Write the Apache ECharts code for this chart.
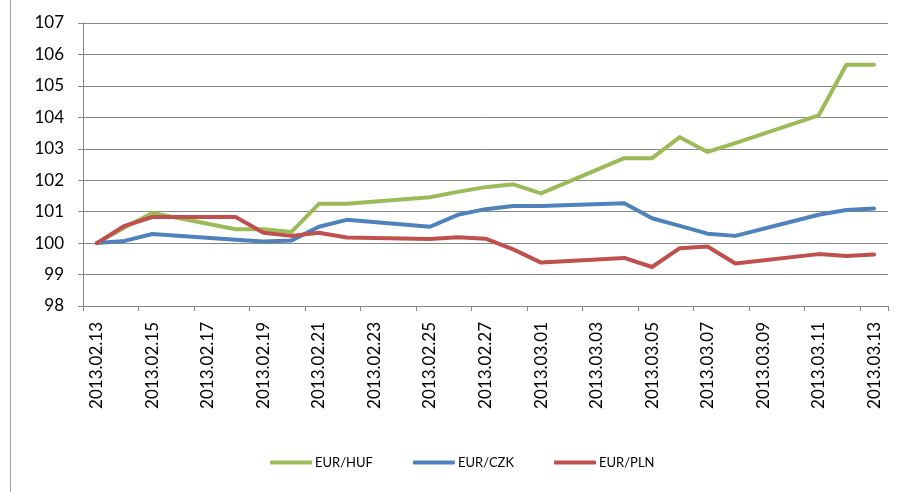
<!DOCTYPE html>
<html>
<head>
<meta charset="utf-8">
<script src="https://cdn.jsdelivr.net/npm/echarts@6/dist/echarts.min.js"></script>
<style>html,body{margin:0;padding:0;background:#fff}#c{width:899px;height:492px}</style>
</head>
<body>
<div id="c"></div>
<script>
const dates = ["2013.02.13","2013.02.14","2013.02.15","2013.02.16","2013.02.17","2013.02.18","2013.02.19","2013.02.20","2013.02.21","2013.02.22","2013.02.23","2013.02.24","2013.02.25","2013.02.26","2013.02.27","2013.02.28","2013.03.01","2013.03.02","2013.03.03","2013.03.04","2013.03.05","2013.03.06","2013.03.07","2013.03.08","2013.03.09","2013.03.10","2013.03.11","2013.03.12","2013.03.13"];
const eurHuf = [100, 100.5, 100.96, null, null, 100.44, 100.44, 100.35, 101.25, 101.25, null, null, 101.46, 101.63, 101.78, 101.87, 101.58, null, null, 102.70, 102.70, 103.37, 102.90, 103.18, null, null, 104.06, 105.67, 105.67];
const eurCzk = [100, 100.07, 100.29, null, null, 100.11, 100.05, 100.08, 100.52, 100.74, null, null, 100.52, 100.90, 101.08, 101.18, 101.18, null, null, 101.27, 100.79, 100.55, 100.30, 100.23, null, null, 100.90, 101.05, 101.10];
const eurPln = [100, 100.55, 100.83, null, null, 100.83, 100.33, 100.23, 100.33, 100.18, null, null, 100.13, 100.19, 100.14, 99.80, 99.38, null, null, 99.53, 99.24, 99.84, 99.89, 99.35, null, null, 99.65, 99.59, 99.64];
const seriesNames = ["EUR/HUF", "EUR/CZK", "EUR/PLN"];
const yMin = 98, yMax = 107, yStep = 1;

const chart = echarts.init(document.getElementById('c'), null, {renderer: 'canvas'});
const font = 'Lato';
const gridColor = '#868686';
const mk = (name, data, color) => ({
  name, type: 'line', data, connectNulls: true, showSymbol: false, symbol: 'none',
  lineStyle: {color, width: 4, cap: 'round', join: 'round'}, itemStyle: {color}
});
chart.setOption({
  animation: false,
  grid: {left: 83, top: 23, right: 11, bottom: 186, containLabel: false},
  graphic: [{type: 'line', shape: {x1: 10.5, y1: 0, x2: 10.5, y2: 492}, style: {stroke: '#a0a0a0', lineWidth: 1}}],
  legend: {
    data: seriesNames, left: 265, top: 451, itemWidth: 42, itemHeight: 4, itemGap: 40,
    icon: 'roundRect',
    textStyle: {fontFamily: font, fontSize: 13, color: '#000', padding: [0, 0, 0, -2]}
  },
  xAxis: {
    type: 'category', data: dates, boundaryGap: true,
    axisLine: {lineStyle: {color: gridColor, width: 1}},
    axisTick: {show: true, interval: 1, length: 5, lineStyle: {color: gridColor}},
    axisLabel: {interval: 1, rotate: 90, margin: 16, fontFamily: font, fontSize: 17, color: '#000'}
  },
  yAxis: {
    type: 'value', min: yMin, max: yMax, interval: yStep,
    axisLine: {show: true, lineStyle: {color: gridColor, width: 1}},
    axisTick: {show: true, length: 5, lineStyle: {color: gridColor}},
    splitLine: {lineStyle: {color: gridColor, width: 1}},
    axisLabel: {margin: 19, fontFamily: font, fontSize: 17, color: '#000'}
  },
  series: [
    mk(seriesNames[0], eurHuf, '#9bbb59'),
    mk(seriesNames[1], eurCzk, '#4f81bd'),
    mk(seriesNames[2], eurPln, '#c0504d')
  ]
});
</script>
</body>
</html>
